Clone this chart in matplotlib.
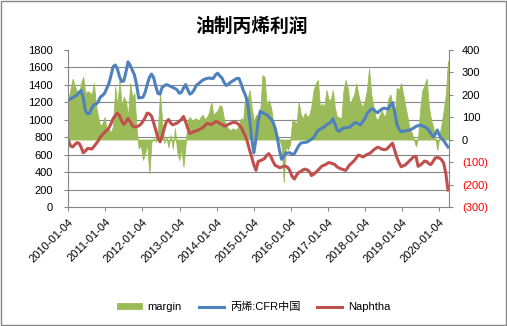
import numpy as np
import pandas as pd
import matplotlib
matplotlib.use('Agg')
import matplotlib.pyplot as plt
from matplotlib.ticker import FixedLocator
from matplotlib.patches import Rectangle

plt.rcParams['font.family'] = ['Liberation Sans', 'Noto Sans CJK SC']

start_date = '2010-01-04'

propylene = [1223, 1235, 1250, 1262, 1278, 1310, 1333, 1250, 1100, 1065,
             1070, 1130, 1170, 1175, 1200, 1257, 1275, 1300, 1355, 1410,
             1500, 1605, 1623, 1580, 1490, 1435, 1440, 1540, 1660, 1620,
             1566, 1510, 1400, 1246, 1250, 1255, 1310, 1400, 1480, 1520,
             1480, 1380, 1300, 1290, 1370, 1385, 1400, 1390, 1378, 1365,
             1355, 1340, 1300, 1310, 1360, 1400, 1340, 1290, 1305, 1340,
             1390, 1410, 1430, 1450, 1462, 1470, 1475, 1470, 1470, 1510,
             1530, 1500, 1477, 1425, 1390, 1400, 1425, 1440, 1455, 1470,
             1470, 1410, 1335, 1280, 1200, 1000, 780, 620, 780, 980,
             1097, 1080, 1065, 1055, 1030, 1005, 970, 900, 790, 650,
             545, 580, 617, 618, 620, 600, 610, 655, 700, 731,
             735, 740, 743, 760, 775, 792, 835, 875, 888, 900,
             915, 940, 955, 965, 1010, 950, 880, 865, 885, 903,
             906, 910, 913, 935, 960, 965, 950, 940, 975, 1010,
             1065, 1095, 1120, 1120, 1095, 1078, 1100, 1120, 1130, 1125,
             1120, 1166, 1195, 1090, 950, 890, 860, 865, 870, 875,
             880, 890, 905, 922, 930, 937, 928, 918, 905, 875,
             840, 805, 830, 880, 820, 785, 760, 720, 686]

naphtha = [766, 700, 686, 712, 735, 730, 685, 620, 640, 668,
           668, 662, 690, 722, 755, 800, 826, 852, 875, 905,
           950, 1010, 1045, 1072, 1045, 985, 945, 972, 1012, 975,
           932, 915, 918, 928, 945, 980, 1020, 1074, 1065, 1040,
           965, 880, 790, 745, 810, 900, 975, 1000, 960, 940,
           950, 960, 980, 1000, 1035, 975, 900, 840, 850, 865,
           870, 882, 895, 905, 930, 955, 950, 942, 960, 975,
           975, 955, 945, 925, 928, 945, 955, 965, 968, 960,
           940, 915, 860, 812, 740, 650, 570, 480, 420, 520,
           530, 540, 555, 590, 610, 575, 520, 475, 465, 450,
           455, 468, 465, 450, 410, 345, 320, 365, 395, 405,
           425, 433, 425, 405, 360, 375, 395, 420, 445, 470,
           478, 490, 508, 503, 495, 485, 458, 445, 435, 428,
           418, 450, 485, 505, 530, 560, 594, 585, 572, 585,
           600, 610, 625, 650, 668, 684, 675, 662, 655, 658,
           680, 705, 730, 650, 570, 510, 460, 470, 482, 505,
           530, 552, 575, 580, 465, 480, 500, 525, 520, 495,
           485, 520, 560, 565, 560, 540, 500, 380, 194]

margin = [180, 220, 270, 240, 215, 200, 250, 279, 205, 215,
          210, 200, 250, 150, 100, 60, 70, 100, 45, 50,
          30, 60, 235, 145, 264, 150, 190, 170, 100, 250,
          190, 205, 50, -40, -25, -90, -60, -20, -150, -10,
          5, -10, 40, 205, 80, -15, 10, -35, 20, -40,
          50, -50, -91, -40, -121, -20, 85, 100, 85, 90,
          95, 80, 100, 110, 90, 100, 120, 168, 110, 120,
          130, 153, 145, 90, 60, 50, 40, 50, 45, 45,
          70, 95, 85, 205, 180, 220, 140, 80, 110, 100,
          130, 286, 279, 150, 175, 145, 80, 45, 20, 0,
          -30, -190, -30, -45, -20, 90, 80, 70, 168, 110,
          95, 120, 100, 110, 150, 220, 250, 264, 145, 160,
          145, 220, 180, 175, 220, 140, 100, 100, 90, 220,
          264, 230, 150, 180, 200, 250, 200, 160, 145, 175,
          220, 316, 200, 150, 100, 85, 110, 130, 100, 120,
          180, 200, 150, 100, 230, 220, 250, 200, 150, 100,
          50, 30, 0, -30, 10, 140, 220, 240, 271, 150,
          90, 60, 10, -47, 20, 70, 130, 200, 350]

x_ticks = ['2010-01-04', '2011-01-04', '2012-01-04', '2013-01-04', '2014-01-04',
           '2015-01-04', '2016-01-04', '2017-01-04', '2018-01-04', '2019-01-04',
           '2020-01-04']
left_ticks = [0, 200, 400, 600, 800, 1000, 1200, 1400, 1600, 1800]
right_ticks = [-300, -200, -100, 0, 100, 200, 300, 400]

dates = pd.date_range(start_date, periods=len(margin), freq='21D')

grey = '#868686'
fig = plt.figure(figsize=(5.07, 3.26), dpi=100)
ax = fig.add_axes([0.1347, 0.365, 0.7515, 0.483])
ax2 = ax.twinx()
ax.set_zorder(ax2.get_zorder() + 1)
ax.patch.set_visible(False)

# margin area on the right axis, behind the lines
area = ax2.fill_between(dates, 0, margin, color='#9BBB59', lw=0.6, label='margin')
l1, = ax.plot(dates, propylene, color='#4F81BD', lw=2.2, label='丙烯:CFR中国')
l2, = ax.plot(dates, naphtha, color='#C0504D', lw=2.2, label='Naphtha')

ax.set_xlim(pd.Timestamp(start_date), pd.Timestamp('2020-04-12'))
ax.set_ylim(0, 1800)
ax.set_yticks(left_ticks)
ax2.set_ylim(-300, 400)
ax2.set_yticks(right_ticks)
ax2.set_yticklabels(['(%d)' % -v if v < 0 else '%d' % v for v in right_ticks])
for v, lbl in zip(right_ticks, ax2.get_yticklabels()):
    lbl.set_color('#FF0000' if v < 0 else 'black')

# horizontal gridlines at the left-axis ticks, drawn under the area
ax2.yaxis.set_minor_locator(FixedLocator(np.linspace(-300, 400, len(left_ticks))))
ax2.grid(which='minor', axis='y', color=grey, lw=0.8)
ax2.set_axisbelow(True)
ax2.tick_params(which='minor', length=0)

ax.set_xticks(pd.to_datetime(x_ticks))
ax.set_xticklabels(x_ticks, rotation=45, ha='right', va='top', rotation_mode='anchor')

for s in ['top', 'right']:
    ax.spines[s].set_visible(False)
for s in ['top', 'left', 'bottom']:
    ax2.spines[s].set_visible(False)
for s in ['left', 'bottom']:
    ax.spines[s].set_color(grey)
ax2.spines['right'].set_color(grey)

ax.tick_params(axis='y', length=3, color=grey, pad=8, labelsize=8)
ax.tick_params(axis='x', length=3, color=grey, pad=4, labelsize=8)
ax2.tick_params(axis='y', length=3, color=grey, pad=6, labelsize=8)

fig.text(0.497, 0.918, '油制丙烯利润', ha='center', va='center', fontsize=13.5,
         fontweight='bold', family=['Noto Sans CJK SC'])

fig.legend([area, l1, l2], ['margin', '丙烯:CFR中国', 'Naphtha'], loc='center',
           bbox_to_anchor=(0.5, 0.058), ncol=3, frameon=False, fontsize=8,
           handlelength=2.25, handleheight=0.5, columnspacing=1.5,
           handletextpad=0.55)

fig.patches.append(Rectangle((0.001, 0.002), 0.997, 0.995, transform=fig.transFigure,
                             fill=False, ec=grey, lw=1))

fig.savefig('out.png', dpi=100)
